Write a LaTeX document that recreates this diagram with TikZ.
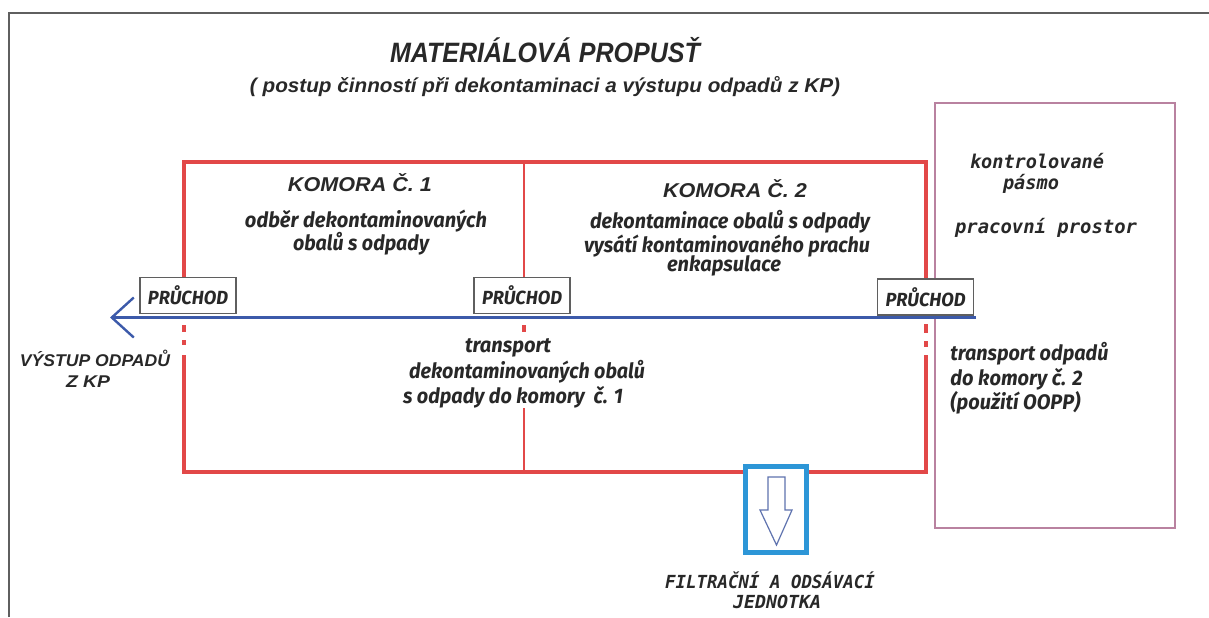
\documentclass[tikz,border=0pt]{standalone}
\usepackage{fontspec}
\usepackage{graphicx}
\setmainfont{Liberation Sans}
\newfontfamily\hand{Fira Sans}
\newfontfamily\monof{DejaVu Sans Mono}
\usetikzlibrary{arrows.meta}
\definecolor{wallred}{RGB}{226,72,72}
\definecolor{flowblue}{RGB}{60,90,170}
\definecolor{zonepink}{RGB}{185,130,160}
\definecolor{filtblue}{RGB}{45,150,215}
\definecolor{arrowgray}{RGB}{95,115,175}
\definecolor{framegray}{RGB}{95,95,95}
\definecolor{txt}{RGB}{40,40,40}
\newcommand\fw[2]{\resizebox{#1}{\height}{#2}}
\newcommand\arbi[1]{\fontsize{#1}{#1}\selectfont\bfseries\itshape}
\newcommand\hbi[1]{\hand\fontsize{#1}{#1}\selectfont\bfseries\itshape}
\newcommand\mbi[1]{\monof\fontsize{#1}{#1}\selectfont\bfseries\itshape}
\begin{document}
\begin{tikzpicture}[x=0.5pt,y=-0.5pt,
  wall/.style={draw=wallred,line width=2pt},
  thinwall/.style={draw=wallred,line width=1.4pt},
  flow/.style={draw=flowblue,line width=1.4pt},
  pass/.style={draw=framegray,fill=white,line width=0.8pt,minimum width=48pt,minimum height=18pt,inner sep=0pt,text=txt},
  lbl/.style={inner sep=0pt,text=txt},
  zone/.style={draw=zonepink,line width=0.8pt},
  filt/.style={draw=filtblue,fill=white,line width=2.5pt,minimum width=30.5pt,minimum height=43pt,inner sep=0pt},
  hollow/.style={draw=arrowgray,line width=0.6pt,fill=white}
]
\useasboundingbox (0,0) rectangle (1209,617);
% outer frame
\draw[framegray,line width=1pt] (9,617) -- (9,13) -- (1209,13);

% zone rectangle
\draw[zone] (935,103) rectangle (1175,528);

% red chambers
\draw[wall] (184,277) -- (184,162) -- (926,162) -- (926,279);
\draw[wall] (184,355) -- (184,472) -- (926,472) -- (926,355);
\draw[thinwall] (524,162) -- (524,277);
\draw[thinwall] (524,408) -- (524,472);
\fill[wallred] (182,325) rectangle (186,332);
\fill[wallred] (182,340) rectangle (186,345);
\fill[wallred] (522,325) rectangle (526,332);
\fill[wallred] (924,324) rectangle (928,333);
\fill[wallred] (924,341) rectangle (928,347);

% flow line
\coordinate (bstart) at (976,317.5);
\coordinate (btip) at (110,317.5);
\draw[flow,-{Straight Barb[length=11pt,width=20pt,line width=1.2pt]}] (bstart) -- (btip);

% passages
\node[pass] (p1) at (188,295.5) {\fw{40pt}{\hbi{9.5}PRŮCHOD}};
\node[pass] (p2) at (522,295.5) {\fw{40pt}{\hbi{9.5}PRŮCHOD}};
\node[pass] (p3) at (925.5,297) {\fw{40pt}{\hbi{9.5}PRŮCHOD}};

% filter unit
\node[filt] (filter) at (776,509.5) {};
\draw[hollow] (768,477) -- (785,477) -- (785,510) -- (792,510) -- (776.5,545) -- (760,510) -- (768,510) -- cycle;

% titles
\node[lbl] (title) at (545,50) {\fw{155pt}{\arbi{14}MATERIÁLOVÁ PROPUSŤ}};
\node[lbl] (subtitle) at (545,87) {\fw{295pt}{\arbi{10}( postup činností při dekontaminaci a výstupu odpadů z KP)}};

% chamber 1
\node[lbl] (k1) at (360,183) {\fw{72pt}{\arbi{10}KOMORA Č. 1}};
\node[lbl] (k1a) at (366,221) {\fw{121pt}{\hbi{10.5}odběr dekontaminovaných}};
\node[lbl] (k1b) at (361,244) {\fw{68pt}{\hbi{10.5}obalů s odpady}};

% chamber 2
\node[lbl] (k2) at (735,189) {\fw{72pt}{\arbi{10}KOMORA Č. 2}};
\node[lbl] (k2a) at (730,222) {\fw{140pt}{\hbi{10.5}dekontaminace obalů s odpady}};
\node[lbl] (k2b) at (727,246) {\fw{143pt}{\hbi{10.5}vysátí kontaminovaného prachu}};
\node[lbl] (k2c) at (724,266) {\fw{57pt}{\hbi{10.5}enkapsulace}};

% zone text
\node[lbl] (z1) at (1037,161) {\fw{67pt}{\mbi{9.5}kontrolované}};
\node[lbl] (z2) at (1031,184) {\fw{28pt}{\mbi{9.5}pásmo}};
\node[lbl] (z3) at (1046,228) {\fw{91pt}{\mbi{9.5}pracovní prostor}};

% exit
\node[lbl] (e1) at (95,358) {\fw{75pt}{\arbi{8.5}VÝSTUP ODPADŮ}};
\node[lbl] (e2) at (88,382) {\fw{22pt}{\arbi{8.5}Z KP}};

% transport 1
\node[lbl] (t1) at (508,348) {\fw{43pt}{\hbi{10.5}transport}};
\node[lbl] (t2) at (527,372) {\fw{118pt}{\hbi{10.5}dekontaminovaných obalů}};
\node[lbl] (t3) at (513,397) {\fw{110pt}{\hbi{10.5}s odpady do komory~~č. 1}};

% transport 2
\node[lbl,anchor=west] (r1) at (950,354) {\fw{79pt}{\hbi{10.5}transport odpadů}};
\node[lbl,anchor=west] (r2) at (950,379) {\fw{66pt}{\hbi{10.5}do komory č. 2}};
\node[lbl,anchor=west] (r3) at (950,403) {\fw{65pt}{\hbi{10.5}(použití OOPP)}};

% filter text
\node[lbl] (f1) at (770,580) {\fw{105pt}{\mbi{9}FILTRAČNÍ A ODSÁVACÍ}};
\node[lbl] (f2) at (777,602) {\fw{44pt}{\mbi{9}JEDNOTKA}};
\end{tikzpicture}
\end{document}
